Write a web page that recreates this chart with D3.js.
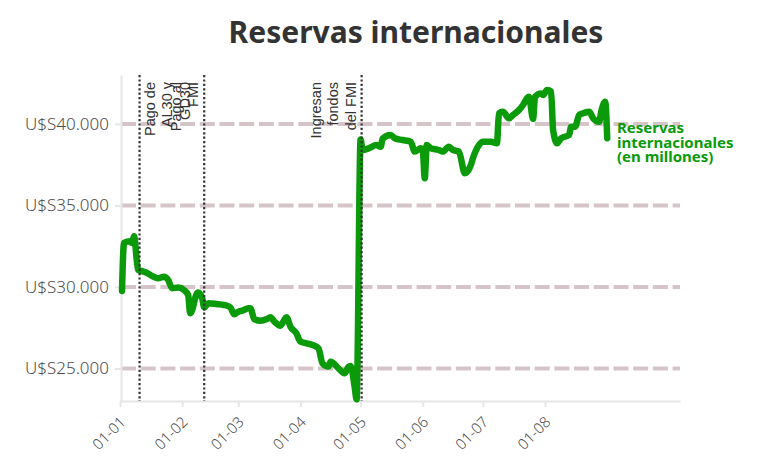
<!DOCTYPE html>
<html><head><meta charset="utf-8">
<script src="https://cdn.jsdelivr.net/npm/d3@7"></script>
<style>body{margin:0;background:#fff}svg{display:block}</style>
</head><body><svg id="chart" width="763" height="470"></svg>
<script>
const dates = ["2025-01-02","2025-01-03","2025-01-06","2025-01-07","2025-01-08","2025-01-10","2025-01-11","2025-01-14","2025-01-17","2025-01-20","2025-01-23","2025-01-25","2025-01-27","2025-01-30","2025-02-02","2025-02-04","2025-02-05","2025-02-06","2025-02-08","2025-02-09","2025-02-11","2025-02-12","2025-02-14","2025-02-18","2025-02-22","2025-02-25","2025-02-27","2025-03-01","2025-03-03","2025-03-06","2025-03-07","2025-03-09","2025-03-12","2025-03-15","2025-03-17","2025-03-19","2025-03-22","2025-03-25","2025-03-27","2025-03-30","2025-04-01","2025-04-04","2025-04-07","2025-04-10","2025-04-12","2025-04-15","2025-04-16","2025-04-20","2025-04-23","2025-04-25","2025-04-26","2025-04-28","2025-04-29","2025-05-01","2025-05-02","2025-05-05","2025-05-09","2025-05-11","2025-05-12","2025-05-16","2025-05-18","2025-05-22","2025-05-26","2025-05-28","2025-05-31","2025-06-01","2025-06-02","2025-06-03","2025-06-05","2025-06-09","2025-06-11","2025-06-14","2025-06-16","2025-06-19","2025-06-22","2025-06-25","2025-06-26","2025-06-29","2025-07-01","2025-07-05","2025-07-08","2025-07-09","2025-07-11","2025-07-14","2025-07-16","2025-07-19","2025-07-21","2025-07-23","2025-07-24","2025-07-26","2025-07-27","2025-07-30","2025-07-31","2025-08-02","2025-08-04","2025-08-05","2025-08-07","2025-08-09","2025-08-13","2025-08-14","2025-08-16","2025-08-18","2025-08-20","2025-08-23","2025-08-25","2025-08-28","2025-08-29","2025-08-31","2025-09-01"];
const values = [29750,32700,32800,32700,33100,31050,31000,30880,30670,30530,30630,30430,29920,29960,29800,29500,28380,28580,29510,29650,29300,28740,28990,28950,28890,28750,28320,28480,28540,28690,28690,28010,27930,28010,28140,27870,27620,28140,27560,27150,26640,26540,26440,26230,25310,25110,25410,25000,24700,25100,25150,23900,23100,39050,38400,38500,38700,38600,39100,39320,39120,39010,38910,38300,38500,38400,36660,38700,38500,38400,38300,38600,38400,38300,36970,37480,37890,38700,38910,38910,38810,40650,40750,40340,40550,40850,41160,41570,41670,40300,41670,41870,41770,42080,41980,39620,38810,39120,39320,39830,39830,40550,40650,40750,40340,40130,40750,41360,39120];
const yTicks = [25000,30000,35000,40000];
const xTickDates = ["2025-01-01","2025-02-01","2025-03-01","2025-04-01","2025-05-01","2025-06-01","2025-07-01","2025-08-01"];
const xDomain = ["2025-01-01","2025-10-07T07:00:00Z"];
const yDomain = [23000,43000];
const annotationDates = ["2025-01-10T18:00:00Z","2025-02-12T00:00:00Z","2025-05-01T12:00:00Z"];
const annotationLines = [["Pago de","AL30 y","GD30"],["Pago al","FMI"],["Ingresan","fondos","del FMI"]];
const annotationSides = ["right","left","left"];
const title = "Reservas internacionales";
const seriesLabel = ["Reservas","internacionales","(en millones)"];

(function(){
const svg = d3.select("#chart");
const pLeft = 121, pRight = 680, pTop = 75, pBottom = 401;
const parse = s => new Date(s.length === 10 ? s + "T00:00:00Z" : s);
const x = d3.scaleUtc().domain(xDomain.map(parse)).range([120, pRight]);
const y = d3.scaleLinear().domain(yDomain).range([pBottom, pTop]);
const data = dates.map((d,i)=>({date: parse(d), value: values[i]}));
const green = "#0a9a0a";
const grid = "#d6c5c8";
const axisGray = "#e6e6e6";
const labelGray = "#4d4d4d";
const font = "'Noto Sans', 'Open Sans', sans-serif";
const loc = d3.formatLocale({decimal:",", thousands:".", grouping:[3], currency:["U$S",""]});
const fmt = loc.format("$,");

// title
svg.append("text").attr("x",416).attr("y",43).attr("text-anchor","middle")
  .style("font-family",font).style("font-weight",700)
  .style("font-size","30px").attr("fill","#333").text(title);

// gridlines
svg.append("g").selectAll("line").data(yTicks).join("line")
  .attr("x1",pLeft).attr("x2",pRight).attr("y1",d=>y(d)).attr("y2",d=>y(d))
  .attr("stroke",grid).attr("stroke-width",4).attr("stroke-dasharray","15,4.7");

// y axis
const yAxis = svg.append("g").attr("transform",`translate(${pLeft},0)`)
  .call(d3.axisLeft(y).tickValues(yTicks).tickSize(6).tickSizeOuter(0).tickPadding(6).tickFormat(fmt));
yAxis.select(".domain").attr("stroke",axisGray).attr("stroke-width",2);
yAxis.selectAll(".tick line").attr("stroke",axisGray).attr("stroke-width",2);
yAxis.selectAll("text").attr("fill",labelGray).style("font-family",font)
  .style("font-weight",300).style("font-size","17px");

// x axis
const xAxis = svg.append("g").attr("transform",`translate(0,${pBottom})`)
  .call(d3.axisBottom(x).tickValues(xTickDates.map(parse)).tickSize(6).tickSizeOuter(0).tickFormat(d3.utcFormat("%d-%m")));
xAxis.select(".domain").attr("stroke",axisGray).attr("stroke-width",2);
xAxis.selectAll(".tick line").attr("stroke",axisGray).attr("stroke-width",2);
xAxis.selectAll("text").attr("fill",labelGray).style("font-family",font)
  .style("font-weight",300).style("font-size","15px")
  .attr("text-anchor","end").attr("y",0).attr("dy",0)
  .attr("transform","translate(6,22) rotate(-45)");

// line
const line = d3.line().x(d=>x(d.date)).y(d=>y(d.value)).curve(d3.curveMonotoneX);
svg.append("path").datum(data).attr("d",line).attr("fill","none")
  .attr("stroke",green).attr("stroke-width",6.5).attr("stroke-linejoin","round").attr("stroke-linecap","round");

// annotations
const ann = svg.append("g");
annotationDates.forEach((d,i)=>{
  const ax = x(parse(d));
  ann.append("line").attr("x1",ax).attr("x2",ax).attr("y1",pTop).attr("y2",pBottom)
    .attr("stroke","#333").attr("stroke-width",2.2).attr("stroke-dasharray","2.2,2.2");
  const lines = annotationLines[i];
  const n = lines.length;
  lines.forEach((t,j)=>{
    const bx = annotationSides[i]==="right" ? ax + 15 + j*17.5 : ax - 6 - (n-1-j)*17.5;
    ann.append("text").attr("transform",`translate(${bx},82) rotate(-90)`)
      .attr("text-anchor","end").attr("fill","#333")
      .style("font-family","'Liberation Sans', Arial, sans-serif").style("font-size","14.5px").text(t);
  });
});

// series label
const last = data[data.length-1];
const ly = y(last.value) - 5;
svg.append("g").selectAll("text").data(seriesLabel).join("text")
  .attr("x",617).attr("y",(d,i)=>ly + i*14.5).attr("fill",green)
  .style("font-family",font).style("font-weight",700).style("font-size","15px")
  .text(d=>d);
})();
</script></body></html>
